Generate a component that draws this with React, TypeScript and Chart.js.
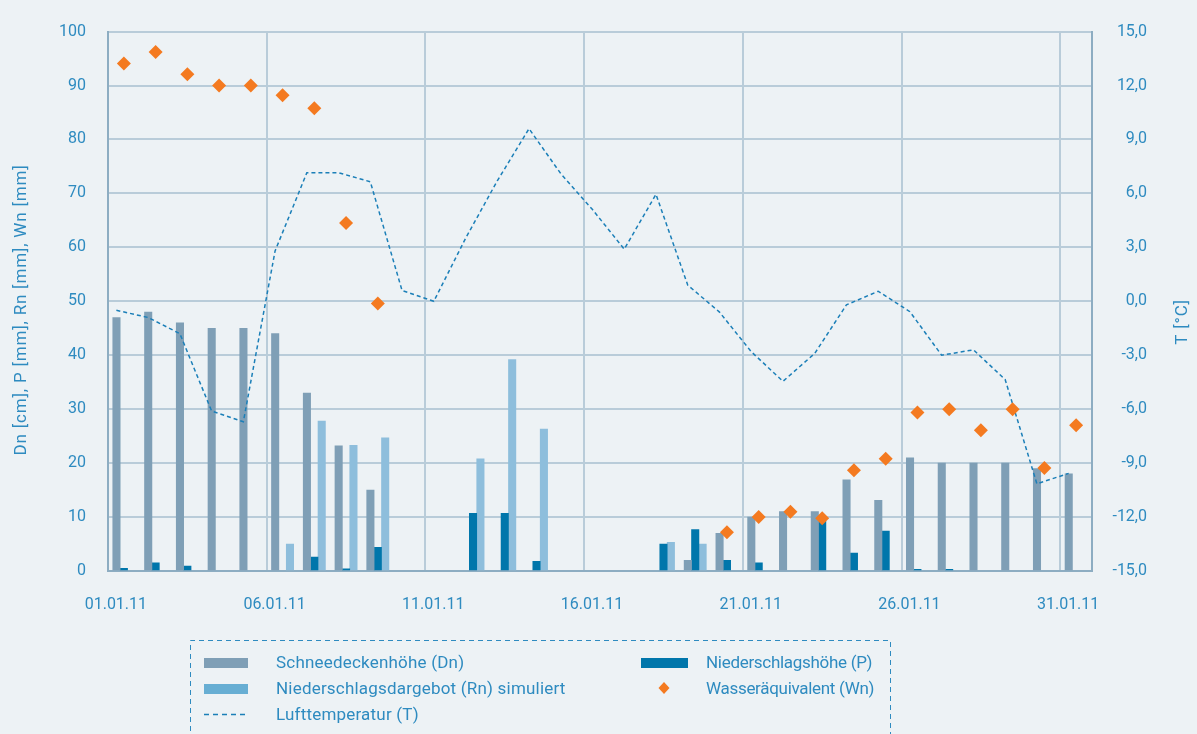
import React, { useEffect, useRef } from 'react';
import { Chart, registerables } from 'chart.js';

Chart.register(...registerables);

const dates = [
  '01.01.11', '02.01.11', '03.01.11', '04.01.11', '05.01.11', '06.01.11', '07.01.11', '08.01.11',
  '09.01.11', '10.01.11', '11.01.11', '12.01.11', '13.01.11', '14.01.11', '15.01.11', '16.01.11',
  '17.01.11', '18.01.11', '19.01.11', '20.01.11', '21.01.11', '22.01.11', '23.01.11', '24.01.11',
  '25.01.11', '26.01.11', '27.01.11', '28.01.11', '29.01.11', '30.01.11', '31.01.11',
];

// Schneedeckenhöhe (Dn) [cm]
const dn = [47, 48, 46, 45, 45, 44, 33, 23.2, 15, 0, 0, 0, 0, 0, 0, 0, 0, 0, 2, 7, 10, 11, 11, 16.9, 13.1, 21, 20, 20, 20, 19, 18];
// Niederschlagshöhe (P) [mm]
const p = [0.5, 1.5, 0.9, 0, 0, 0, 2.6, 0.4, 4.4, 0, 0, 10.7, 10.7, 1.8, 0, 0, 0, 5, 7.7, 2, 1.5, 0, 9.2, 3.3, 7.4, 0.3, 0.3, 0, 0, 0, 0];
// Niederschlagsdargebot (Rn) simuliert [mm]
const rn = [0, 0, 0, 0, 0, 5, 27.8, 23.3, 24.7, 0, 0, 20.8, 39.2, 26.3, 0, 0, 0, 5.3, 5, 0, 0, 0, 0, 0, 0, 0, 0, 0, 0, 0, 0];
// Wasseräquivalent (Wn) [mm]
const wn = [94.1, 96.2, 92.1, 90, 90, 88.2, 85.8, 64.5, 49.6, null, null, null, null, null, null, null, null, null, null,
  7.2, 10, 11, 9.8, 18.7, 20.8, 29.4, 30, 26.1, 30, 19.1, 27];
// Lufttemperatur (T) [°C]
const temp = [-0.5, -0.9, -1.8, -6.1, -6.7, 2.8, 7.15, 7.15, 6.65, 0.6, 0.0, 3.5, 6.7, 9.6, 7.1, 5.1, 2.9, 5.95, 0.9, -0.6,
  -2.8, -4.45, -2.9, -0.2, 0.56, -0.58, -3.0, -2.7, -4.35, -10.15, -9.57];

const leftTicksStep = 10;
const rightTicksStep = 3;

const FONT = 'Roboto, "Open Sans", sans-serif';
const TEXT = '#2e8bc0';
const GRID = '#b9ccd9';
const AXIS = '#8dadc2';
const BG = '#edf2f5';
const C_DN = '#7f9fb6';
const C_P = '#0076ab';
const C_RN = '#8ebedc';
const C_RN_LEG = '#67aed3';
const C_WN = '#f47a20';
const C_T = '#1b7fb8';

// bar width as a fraction of one day's slot, and the line's sideways shift (in days)
const BAR_FRAC = 0.233;
const LINE_SHIFT = 0.236;
const N = dates.length;

const toXY = (arr: (number | null)[]) => arr.map((v, i) => ({ x: i, y: v === 0 ? null : v }));
const shiftedAxis = (shift: number) => ({
  type: 'linear', display: false, offset: false, grid: { offset: false, display: false },
  min: -0.5 + shift, max: N - 0.5 + shift,
});

export default function App() {
  const ref = useRef<HTMLCanvasElement>(null);

  useEffect(() => {
    if (!ref.current) return;
    const titles = {
      id: 'axisTitles',
      afterDraw(chart: any) {
        const ctx = chart.ctx;
        const draw = (text: string, x: number, y: number) => {
          ctx.save();
          ctx.fillStyle = TEXT;
          ctx.font = `17px ${FONT}`;
          try { ctx.letterSpacing = '0.8px'; } catch (e) { /* ignore */ }
          ctx.textAlign = 'center';
          ctx.textBaseline = 'middle';
          ctx.translate(x, y);
          ctx.rotate(-Math.PI / 2);
          ctx.fillText(text, 0, 0);
          ctx.restore();
        };
        draw('Dn [cm], P [mm], Rn [mm], Wn [mm]', 21.5, 310);
        draw('T [°C]', 1183, 322);
      },
    };

    const barCommon = {
      type: 'bar', yAxisID: 'y', order: 3, grouped: false,
      barThickness: 7.4,
    };

    const chart = new Chart(ref.current, {
      type: 'bar',
      data: {
        labels: dates,
        datasets: [
          { ...barCommon, xAxisID: 'xDn', label: 'Schneedeckenhöhe (Dn)', data: toXY(dn), backgroundColor: C_DN },
          { ...barCommon, xAxisID: 'xP', label: 'Niederschlagshöhe (P)', data: toXY(p), backgroundColor: C_P },
          { ...barCommon, xAxisID: 'xRn', label: 'Niederschlagsdargebot (Rn) simuliert', data: toXY(rn), backgroundColor: C_RN },
          {
            type: 'line', label: 'Lufttemperatur (T)', data: temp.map((t, i) => ({ x: i, y: t })),
            xAxisID: 'xT', yAxisID: 'yT', borderColor: C_T, borderWidth: 1.5, borderDash: [4, 3],
            pointRadius: 0, fill: false, tension: 0, order: 2,
          },
          {
            type: 'line', label: 'Wasseräquivalent (Wn)', data: wn, showLine: false,
            pointStyle: 'rectRot', pointRadius: 7, pointBackgroundColor: C_WN, pointBorderColor: C_WN,
            pointBorderWidth: 0, backgroundColor: C_WN, borderColor: C_WN,
            xAxisID: 'x', yAxisID: 'y', order: 1,
          },
        ],
      } as any,
      options: {
        animation: false,
        responsive: false,
        layout: { padding: { top: 28, bottom: 113, left: 0, right: 50 } },
        plugins: { legend: { display: false }, tooltip: { enabled: false } },
        scales: {
          x: {
            type: 'category',
            offset: true,
            grid: {
              offset: true,
              color: (c: any) => (c.index % 5 === 0 ? GRID : 'rgba(0,0,0,0)'),
              lineWidth: 2,
              drawTicks: false,
            },
            border: { color: AXIS, width: 2 },
            ticks: {
              autoSkip: false,
              maxRotation: 0,
              minRotation: 0,
              callback: (_v: any, i: number) => (i % 5 === 0 ? dates[i] : ''),
              color: TEXT,
              font: { family: FONT, size: 16 },
              padding: 24,
              labelOffset: -8,
            },
            afterFit: (s: any) => { s.height = 50; },
          },
          xDn: shiftedAxis(BAR_FRAC),
          xP: shiftedAxis(0),
          xRn: shiftedAxis(-BAR_FRAC),
          xT: shiftedAxis(LINE_SHIFT),
          y: {
            position: 'left',
            min: 0,
            max: 100,
            ticks: { stepSize: leftTicksStep, color: TEXT, font: { family: FONT, size: 16 }, padding: 22 },
            grid: { color: GRID, lineWidth: 2, drawTicks: false },
            border: { color: AXIS, width: 2 },
            afterFit: (s: any) => { s.width = 108; },
          },
          yT: {
            position: 'right',
            min: -15,
            max: 15,
            ticks: {
              stepSize: rightTicksStep,
              color: TEXT,
              font: { family: FONT, size: 16 },
              padding: 16,
              crossAlign: 'far',
              callback: (v: any) => Number(v).toFixed(1).replace('.', ','),
            },
            grid: { display: false, drawTicks: false },
            border: { color: AXIS, width: 2 },
            afterFit: (s: any) => { s.width = 55; },
          },
        },
      } as any,
      plugins: [titles],
    });
    return () => chart.destroy();
  }, []);

  const legText: React.CSSProperties = {
    position: 'absolute', font: `17px ${FONT}`, letterSpacing: '0.2px', color: TEXT, lineHeight: '20px', whiteSpace: 'nowrap',
  };
  const legText2: React.CSSProperties = { ...legText, letterSpacing: '-0.3px' };
  const sw = (x: number, y: number, w: number, color: string): React.CSSProperties => ({
    position: 'absolute', left: x, top: y, width: w, height: 10, background: color,
  });

  return (
    <div style={{ position: 'fixed', left: 0, top: 0, width: 1197, height: 734, background: BG, overflow: 'hidden' }}>
      <canvas ref={ref} width={1197} height={734} style={{ position: 'absolute', left: 0, top: 0, width: 1197, height: 734 }} />
      <svg width={1197} height={734} style={{ position: 'absolute', left: 0, top: 0, pointerEvents: 'none' }}>
        <polyline points="190.5,740 190.5,640.5 890.5,640.5 890.5,740" fill="none" stroke={TEXT} strokeWidth={1} strokeDasharray="5 4" />
        <line x1={204} y1={714.5} x2={248} y2={714.5} stroke={C_T} strokeWidth={1.5} strokeDasharray="5 4" />
        <polygon points="664,682 669.5,688 664,694 658.5,688" fill={C_WN} />
      </svg>
      <div style={sw(204, 658, 44, C_DN)} />
      <div style={sw(204, 684, 44, C_RN_LEG)} />
      <div style={sw(641, 658, 47, C_P)} />
      <div style={{ ...legText, left: 276, top: 652 }}>Schneedeckenhöhe (Dn)</div>
      <div style={{ ...legText, left: 276, top: 678 }}>Niederschlagsdargebot (Rn) simuliert</div>
      <div style={{ ...legText, left: 276, top: 704 }}>Lufttemperatur (T)</div>
      <div style={{ ...legText2, left: 706, top: 652 }}>Niederschlagshöhe (P)</div>
      <div style={{ ...legText2, left: 706, top: 678 }}>Wasseräquivalent (Wn)</div>
    </div>
  );
}
